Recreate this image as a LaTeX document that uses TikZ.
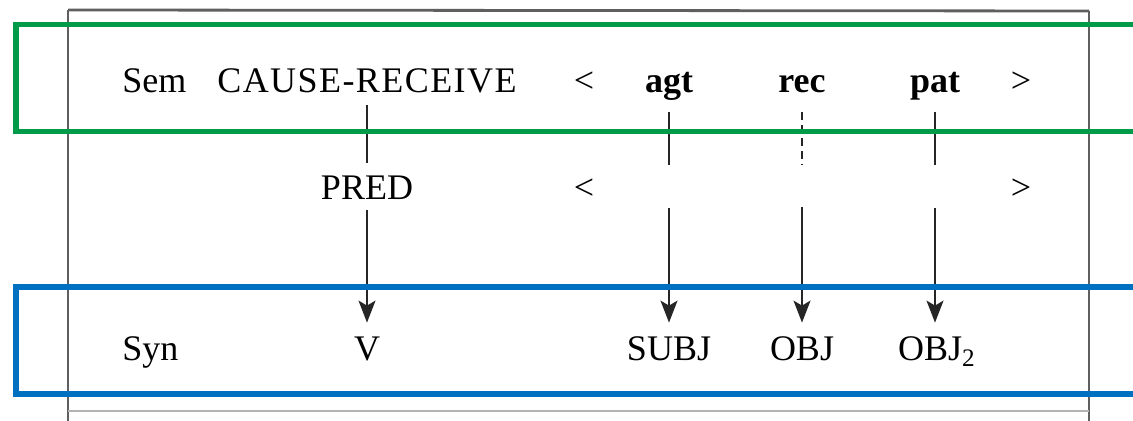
\documentclass[tikz,border=0pt]{standalone}
\usepackage{fontspec}
\setmainfont{Liberation Serif}
\usetikzlibrary{arrows.meta}
\definecolor{boxgreen}{RGB}{0,155,72}
\definecolor{boxblue}{RGB}{0,112,192}
\definecolor{framegray}{RGB}{95,95,95}
\begin{document}
\begin{tikzpicture}[x=0.5pt,y=-0.5pt,
  txt/.style={inner sep=0pt,text height=12.5pt,text depth=4pt,anchor=base,font=\fontsize{18}{22}\selectfont},
  bld/.style={txt,font=\fontsize{18}{22}\selectfont\bfseries},
  link/.style={line width=0.75pt,black!85},
  arr/.style={link,-{Stealth[length=11pt,width=8.5pt,inset=2.5pt]}},
  dashlink/.style={link,dash pattern=on 4pt off 2.5pt},
  hl/.style={line width=2.6pt}]
\useasboundingbox (0,0) rectangle (1133,421);
\fill[white] (0,0) rectangle (1133,421);
% scanned frame
\draw[framegray,line width=1.4pt] (68,10) -- (1089,11);
\draw[framegray,line width=0.8pt] (68,10) -- (68,421);
\draw[framegray,line width=0.8pt] (1089,11) -- (1089,421);
\draw[black!30,line width=0.8pt] (68,411) -- (1089,411);
% row 1
\node[txt,anchor=base west] (sem) at (122,93) {Sem};
\node[txt] (cause) at (367,93) {\addfontfeature{LetterSpace=4}CAUSE-RECEIVE};
\node[txt] (lt1) at (584,93) {<};
\node[bld] (agt) at (669,93) {agt};
\node[bld] (rec) at (802,93) {rec};
\node[bld] (pat) at (935,93) {pat};
\node[txt] (gt1) at (1021,93) {>};
% row 2
\node[txt] (pred) at (367,200) {PRED};
\node[txt] (lt2) at (584,200) {<};
\node[txt] (gt2) at (1021,200) {>};
\coordinate (agtmid) at (669,165);
\coordinate (agtlow) at (669,208);
\coordinate (recmid) at (802,165);
\coordinate (reclow) at (802,207);
\coordinate (patmid) at (935,165);
\coordinate (patlow) at (935,208);
% row 3
\node[txt,anchor=base west] (syn) at (122,361) {Syn};
\node[txt] (v) at (367,361) {V};
\node[txt] (subj) at (669,361) {SUBJ};
\node[txt] (obj) at (802,361) {OBJ};
\node[txt] (obj2) at (937,361) {OBJ\textsubscript{2}};
% connectors
\draw[link,shorten <=2pt,shorten >=6pt] (cause.south) -- (pred.north);
\draw[arr,shorten <=1pt,shorten >=6.5pt] (pred.south) -- (v.north);
\draw[link,shorten <=5.5pt] (agt.south) -- (agtmid);
\draw[dashlink,shorten <=5.5pt] (rec.south) -- (recmid);
\draw[link,shorten <=5.5pt] (pat.south) -- (patmid);
\draw[arr,shorten >=6.5pt] (agtlow) -- (subj.north);
\draw[arr,shorten >=6.5pt] (reclow) -- (obj.north);
\draw[arr,shorten >=6.5pt] (patlow) -- (obj2.north -| patlow);
% highlight boxes
\draw[hl,boxgreen] (1145,24.5) -- (16,24.5) -- (16,131.5) -- (1145,131.5);
\draw[hl,boxblue] (1145,287) -- (16,287) -- (16,394) -- (1145,394);
\end{tikzpicture}
\end{document}
